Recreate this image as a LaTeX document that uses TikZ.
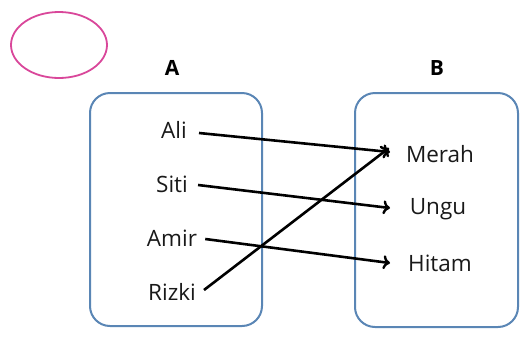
\documentclass[tikz,border=0pt]{standalone}
\usepackage{fontspec}
\setmainfont{Open Sans}
\usetikzlibrary{arrows.meta}
\definecolor{boxblue}{HTML}{5A86B5}
\definecolor{pinkline}{HTML}{D9479A}
\begin{document}
\begin{tikzpicture}[x=1pt,y=-1pt,
  setbox/.style={draw=boxblue,line width=2pt,rounded corners=20pt},
  item/.style={font=\fontsize{22.5}{26}\selectfont,text=black!90,inner sep=2pt},
  setlabel/.style={font=\fontsize{21}{24}\selectfont\bfseries},
  maparrow/.style={draw=black,line width=2.6pt,-{To[length=7pt,width=14pt,line width=2.4pt]}}]
\useasboundingbox (0,0) rectangle (520,338);
\draw[pinkline,line width=1.8pt] (59,45) ellipse [x radius=48, y radius=33];
\node[setlabel] (la) at (172,68) {A};
\node[setlabel] (lb) at (437,68) {B};
\draw[setbox] (90,93) rectangle (262,326);
\draw[setbox] (355,93) rectangle (518,327);
\node[item] (ali) at (174,130) {Ali};
\node[item] (siti) at (172,184) {Siti};
\node[item] (amir) at (172,238) {Amir};
\node[item] (rizki) at (172,292) {Rizki};
\node[item] (merah) at (440,154) {Merah};
\node[item] (ungu) at (438,209) {Ungu};
\node[item] (hitam) at (440,263) {Hitam};
\coordinate (ta) at (390,152);
\coordinate (tu) at (390,208);
\coordinate (th) at (390,263);
\coordinate (tr) at (389,148);
\draw[maparrow] ([xshift=10pt,yshift=-3pt]ali.east) -- (ta);
\draw[maparrow] ([xshift=8pt,yshift=-1pt]siti.east) -- (tu);
\draw[maparrow] ([xshift=6pt,yshift=-1pt]amir.east) -- (th);
\draw[maparrow] ([xshift=6pt,yshift=2pt]rizki.east) -- (tr);
\end{tikzpicture}
\end{document}
